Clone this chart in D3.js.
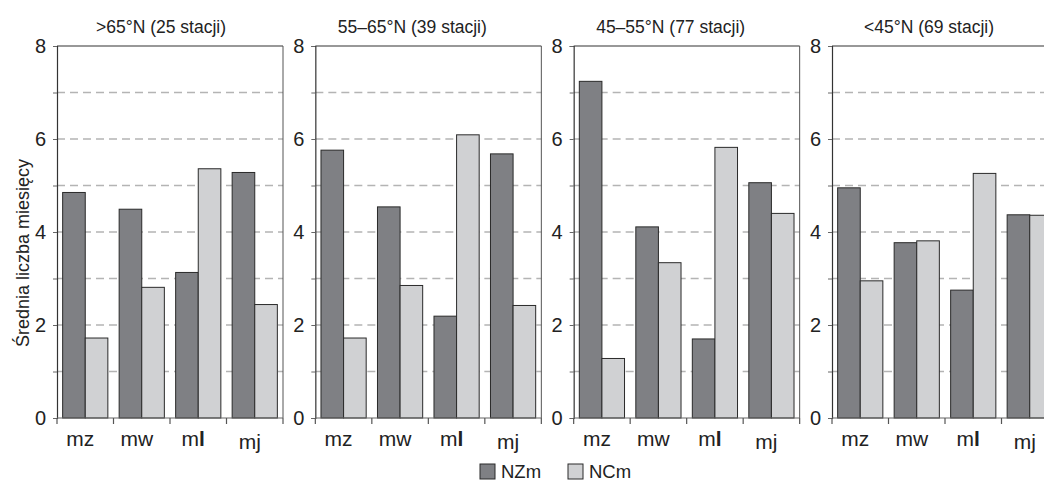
<!DOCTYPE html>
<html>
<head>
<meta charset="utf-8">
<script src="https://cdn.jsdelivr.net/npm/d3@7"></script>
<style>
  body { margin: 0; background: #fff; }
  svg { display: block; font-family: "Liberation Sans Narrow", "Arial Narrow", "Liberation Sans", sans-serif; }
</style>
</head>
<body>
<div id="chart"></div>
<script>
// data
const panelTitles = ['>65°N (25 stacji)', '55–65°N (39 stacji)', '45–55°N (77 stacji)', '<45°N (69 stacji)'];
const categories = ['mz', 'mw', 'ml', 'mj'];
const seriesNames = ['NZm', 'NCm'];
const nzm = [
  [4.85, 4.49, 3.13, 5.28],
  [5.76, 4.54, 2.19, 5.68],
  [7.24, 4.11, 1.70, 5.06],
  [4.95, 3.77, 2.75, 4.37]
];
const ncm = [
  [1.72, 2.81, 5.36, 2.44],
  [1.72, 2.85, 6.09, 2.42],
  [1.28, 3.34, 5.82, 4.40],
  [2.95, 3.81, 5.26, 4.36]
];
const yTicks = [0, 1, 2, 3, 4, 5, 6, 7, 8];
const yLabelTicks = [0, 2, 4, 6, 8];

const W = 1044, H = 482;
const panelW = 226;
const plotTop = 46, plotBottom = 418;

const color = d3.scaleOrdinal().domain(seriesNames).range(['#7f8084', '#d0d1d3']);

const svg = d3.select('#chart').append('svg')
  .attr('width', W)
  .attr('height', H);

const panelX = d3.scaleLinear().domain([0, 3]).range([57, 832]);

const y = d3.scaleLinear().domain([0, 8]).range([plotBottom, plotTop]);

const x = d3.scaleBand().domain(categories).range([0, panelW]);
const xs = d3.scaleBand().domain(seriesNames).range([0, x.bandwidth()]).paddingOuter(0.25);

panelTitles.forEach((title, p) => {
  const g = svg.append('g')
    .attr('transform', `translate(${panelX(p)}, 0)`);

  // dashed grid
  g.append('g')
    .selectAll('line')
    .data(yTicks.filter(d => d > 0 && d < 8))
    .join('line')
    .attr('x1', 0)
    .attr('x2', panelW)
    .attr('y1', d => y(d))
    .attr('y2', d => y(d))
    .attr('stroke', '#b4b4b4')
    .attr('stroke-width', 1.3)
    .attr('stroke-dasharray', '8,5');

  // bars
  const rows = categories.map((c, i) => ({ cat: c, NZm: nzm[p][i], NCm: ncm[p][i] }));
  g.append('g')
    .selectAll('g')
    .data(rows)
    .join('g')
    .attr('transform', d => `translate(${x(d.cat)}, 0)`)
    .selectAll('rect')
    .data(d => seriesNames.map(s => ({ s, v: d[s] })))
    .join('rect')
    .attr('x', d => xs(d.s))
    .attr('width', xs.bandwidth())
    .attr('y', d => y(d.v))
    .attr('height', d => y(0) - y(d.v))
    .attr('fill', d => color(d.s))
    .attr('stroke', '#2a2a2a')
    .attr('stroke-width', 1);

  // frame: top and right
  g.append('line')
    .attr('x1', 0).attr('x2', panelW)
    .attr('y1', y(8)).attr('y2', y(8))
    .attr('stroke', '#333').attr('stroke-width', 1.2);
  g.append('line')
    .attr('x1', panelW).attr('x2', panelW)
    .attr('y1', y(8)).attr('y2', y(0))
    .attr('stroke', '#555').attr('stroke-width', 1);

  // y axis
  const yAxis = d3.axisLeft(y)
    .tickValues(yTicks)
    .tickSize(4)
    .tickPadding(7)
    .tickFormat(d => yLabelTicks.includes(d) ? d : '');
  const ya = g.append('g').call(yAxis);
  ya.attr('font-family', null);
  ya.select('.domain').attr('stroke', '#333').attr('stroke-width', 1.2);
  ya.selectAll('.tick line').attr('stroke', '#666');
  ya.selectAll('text')
    .attr('font-size', 20)
    .attr('fill', '#222');

  // x axis with boundary ticks
  const bounds = categories.map(c => x(c)).concat([panelW]);
  g.append('line')
    .attr('x1', 0).attr('x2', panelW)
    .attr('y1', y(0)).attr('y2', y(0))
    .attr('stroke', '#666').attr('stroke-width', 1.2);
  g.append('g')
    .selectAll('line')
    .data(bounds)
    .join('line')
    .attr('x1', d => d).attr('x2', d => d)
    .attr('y1', y(0)).attr('y2', y(0) + 6)
    .attr('stroke', '#555').attr('stroke-width', 1.2);

  const labels = g.append('g')
    .selectAll('text')
    .data(categories)
    .join('text')
    .attr('x', d => x(d) + x.bandwidth() / 2 - 5)
    .attr('y', d => d === 'mj' ? 449 : 446)
    .attr('text-anchor', 'middle')
    .attr('font-size', 21)
    .attr('fill', '#222');
  labels.each(function (d) {
    const t = d3.select(this);
    if (d === 'ml') {
      t.append('tspan').text('m');
      t.append('tspan').attr('font-weight', 'bold').text('l');
    } else {
      t.text(d);
    }
  });

  // panel title
  g.append('text')
    .attr('x', p === 0 ? 104 : 97)
    .attr('y', 33)
    .attr('text-anchor', 'middle')
    .attr('font-size', 17.5)
    .attr('fill', '#222')
    .text(title);
});

// y axis title
svg.append('text')
  .attr('transform', `translate(29, 253) rotate(-90)`)
  .attr('text-anchor', 'middle')
  .attr('font-size', 18)
  .attr('fill', '#222')
  .text('Średnia liczba miesięcy');

// legend
const legend = svg.append('g');
const legendX = d3.scaleOrdinal().domain(seriesNames).range([480, 568]);
seriesNames.forEach(s => {
  const row = legend.append('g')
    .attr('transform', `translate(${legendX(s)}, 464)`);
  row.append('rect')
    .attr('width', 15)
    .attr('height', 15)
    .attr('fill', color(s))
    .attr('stroke', '#2a2a2a');
  row.append('text')
    .attr('x', 21)
    .attr('y', 14)
    .attr('font-size', 18.5)
    .attr('fill', '#222')
    .text(s);
});
</script>
</body>
</html>
